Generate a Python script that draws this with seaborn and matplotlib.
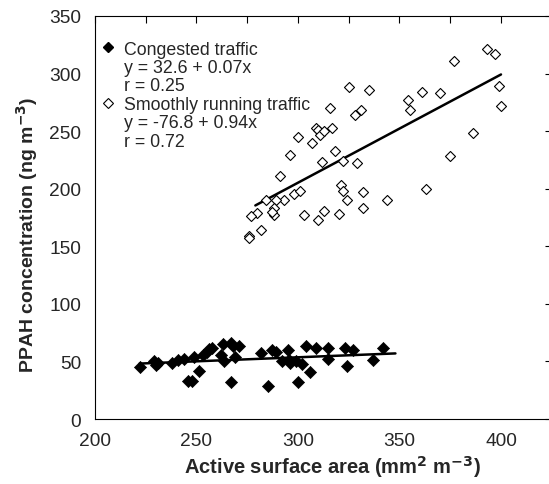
import numpy as np
import pandas as pd
import matplotlib
matplotlib.use("Agg")
import matplotlib.pyplot as plt
import seaborn as sns
from matplotlib.lines import Line2D
from matplotlib.ticker import MultipleLocator

# -------------------------------
# Data
# -------------------------------
cong_x = [222, 229, 230, 231, 238, 241, 244, 246, 248, 249, 251, 253, 255, 256,
          257.5, 263, 267, 268, 271, 262, 263.5, 269, 267, 282, 287, 289, 285,
          295, 292, 295.5, 296, 299, 302, 300, 306, 304, 309, 315, 315, 323,
          327, 324, 337, 342]
cong_y = [45, 50, 47, 49, 49, 51, 52, 33, 33, 54, 42, 56, 58, 61,
          62, 65, 66, 63.5, 63, 55.5, 50, 54, 32, 57, 59.5, 58, 29,
          60, 50, 51.5, 49, 50.5, 48, 32, 40.5, 63, 61.5, 61.5, 52.5, 62,
          60, 46, 51.5, 61.5]

smooth_x = [393, 397, 377, 399, 400, 325, 335, 328, 331, 354, 355, 361, 370,
            316, 309, 310, 311, 313, 317, 300, 307, 318, 296,
            312, 322, 329, 291, 321, 322, 332, 344, 324, 332,
            298, 301, 293, 284, 289, 288, 288, 287, 280, 277,
            303, 313, 310, 320, 282, 276, 276, 363, 375, 386]
smooth_y = [321, 317, 311, 289, 272, 288, 286, 264, 268, 277, 268, 284, 283,
            270, 253, 251, 247, 250, 253, 245, 240, 233, 229,
            223, 224, 222, 211, 203, 198, 197, 190, 190, 183,
            195, 198, 190, 190, 190, 183, 177, 180, 179, 176,
            177, 181, 173, 178, 164, 159, 157, 200, 228, 248]

# regression lines as printed in the legend, and the x span they are drawn over
cong_fit = (32.6, 0.07)
smooth_fit = (-76.8, 0.94)
cong_span = [222, 348]
smooth_span = [279, 400]

cong_label = ["Congested traffic", "y = 32.6 + 0.07x", "r = 0.25"]
smooth_label = ["Smoothly running traffic", "y = -76.8 + 0.94x", "r = 0.72"]

df_c = pd.DataFrame({"x": cong_x, "y": cong_y})
df_s = pd.DataFrame({"x": smooth_x, "y": smooth_y})

# -------------------------------
# Plot
# -------------------------------
sns.set_style("white")
plt.rcParams['font.family'] = ['Liberation Sans', 'DejaVu Sans']

fig = plt.figure(figsize=(5.49, 4.85), dpi=100)
ax = fig.add_axes([0.173, 0.134, 0.832, 0.831])

sns.scatterplot(data=df_c, x="x", y="y", marker="D", s=38, color="black",
                edgecolor="black", linewidth=0.5, ax=ax, zorder=3)
sns.scatterplot(data=df_s, x="x", y="y", marker="D", s=26, facecolor="white",
                edgecolor="black", linewidth=0.8, ax=ax, zorder=3)

for span, (a, b) in [(cong_span, cong_fit), (smooth_span, smooth_fit)]:
    xs = np.array(span)
    ax.plot(xs, a + b * xs, color="black", lw=1.8, zorder=2)

ax.set_xlim(200, 425)
ax.set_ylim(0, 350)
ax.xaxis.set_major_locator(MultipleLocator(50))
ax.xaxis.set_minor_locator(MultipleLocator(25))
ax.yaxis.set_major_locator(MultipleLocator(50))
ax.tick_params(which="both", direction="in", top=True, right=True,
               labelsize=13.8, width=0.8, color="black")
ax.tick_params(axis="x", pad=9)
ax.tick_params(axis="y", pad=10)
ax.tick_params(which="major", length=5)
ax.tick_params(which="minor", length=5)
for sp in ax.spines.values():
    sp.set_color("black")
    sp.set_linewidth(0.8)

ax.set_xlabel("Active surface area (mm$^\\mathbf{2}$ m$^\\mathbf{-3}$)",
              fontsize=14.5, fontweight="bold")
ax.set_ylabel("PPAH concentration (ng m$^\\mathbf{-3}$)",
              fontsize=14, fontweight="bold")
ax.xaxis.set_label_coords(0.52, -0.085)
ax.yaxis.set_label_coords(-0.12, 0.46)

blank = Line2D([], [], linestyle="none", marker=None)
handles = [Line2D([], [], linestyle="none", marker="D", ms=5.5, color="black"),
           blank, blank,
           Line2D([], [], linestyle="none", marker="D", ms=4.8, mfc="white",
                  mec="black", mew=0.8),
           blank, blank]
ax.legend(handles, cong_label + smooth_label, loc="upper left",
          bbox_to_anchor=(-0.015, 0.97), frameon=False, fontsize=12.8,
          handlelength=0.8, handletextpad=0.5, labelspacing=0.08,
          borderaxespad=0.3)

fig.savefig("out.png", dpi=100)
